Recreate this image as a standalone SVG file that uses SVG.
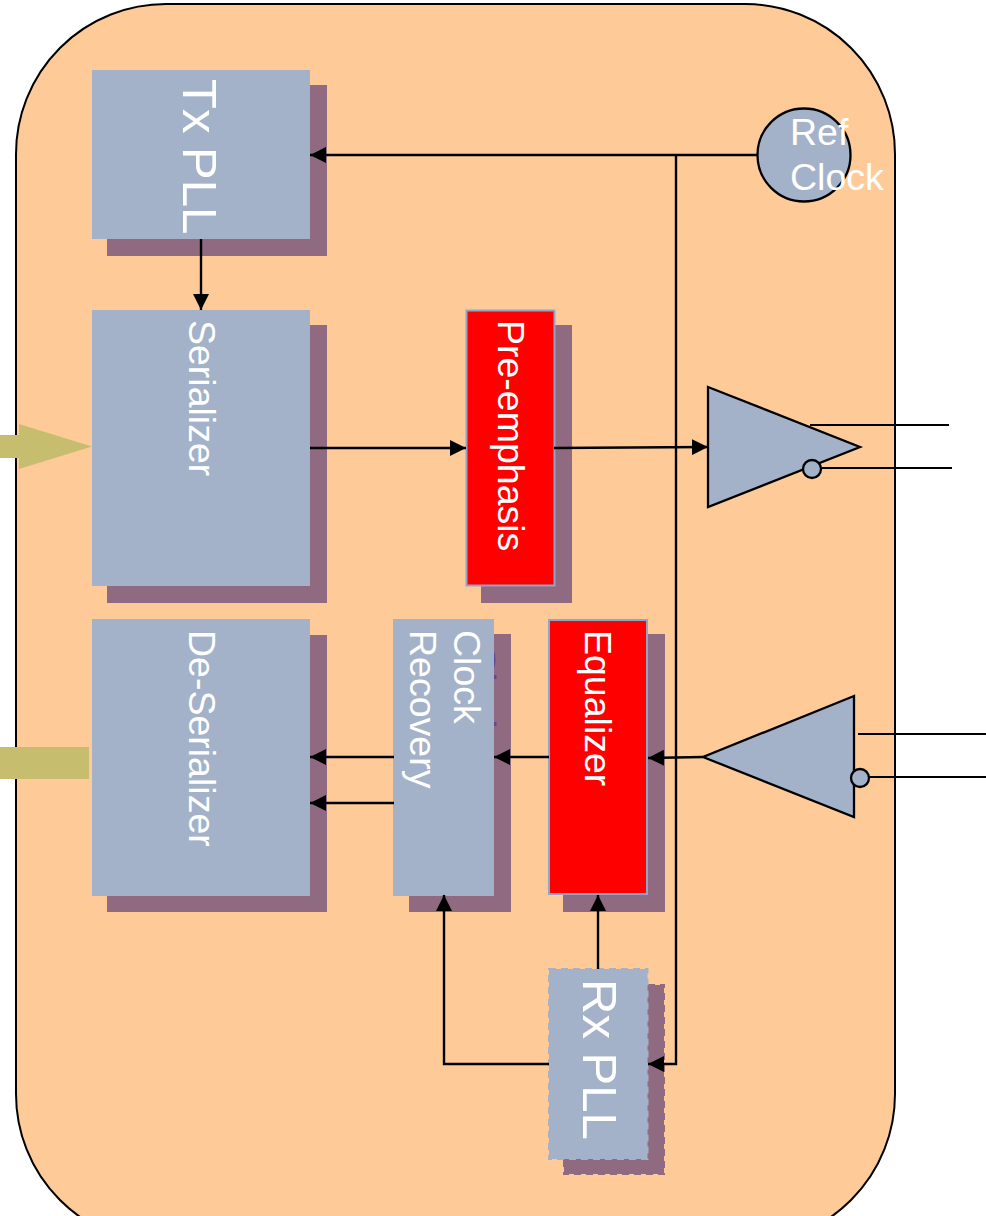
<svg xmlns="http://www.w3.org/2000/svg" width="986" height="1216" viewBox="0 0 986 1216">
<style>
text{font-family:"Liberation Sans",Arial,sans-serif;fill:#fff;font-size:37.5px}
.big{font-size:49px}
.box{fill:#a4b2c9}
.sh{fill:#8f6a81}
.red{fill:#f00;stroke:#8fa5c9;stroke-width:2}
.dash{stroke-width:2;stroke-dasharray:7 5}
.ln{fill:none;stroke:#000;stroke-width:2.4}
.thin{fill:none;stroke:#000;stroke-width:1.8}
.ol{fill:#a4b2c9;stroke:#000;stroke-width:2.3}
</style>
<defs>
<marker id="a" markerUnits="userSpaceOnUse" markerWidth="17" markerHeight="16" refX="16" refY="8" orient="auto"><path d="M0 0L16 8L0 16Z" fill="#000"/></marker>
</defs>
<rect id="chip" x="16" y="4" width="879" height="1240" rx="150" ry="150" fill="#fecb98" stroke="#000" stroke-width="2"/>
<g id="bus-in"><path d="M0 435H19V424L92 446.500L19 469V458H0Z" fill="#c7bd6f"/></g>
<g id="bus-out"><rect x="0" y="747" width="89" height="32" fill="#c7bd6f"/></g>
<g id="tx-pll"><rect class="sh" x="107" y="85" width="220" height="171"/><rect class="box" x="92" y="70" width="218" height="169"/><text class="big" transform="translate(183,79) rotate(90)">Tx PLL</text></g>
<g id="serializer"><rect class="sh" x="107" y="325" width="220" height="278"/><rect class="box" x="92" y="310" width="218" height="276"/><text transform="translate(189,320) rotate(90)">Serializer</text></g>
<g id="deserializer"><rect class="sh" x="107" y="635" width="220" height="277"/><rect class="box" x="92" y="619" width="218" height="277"/><text transform="translate(189,630) rotate(90)">De-Serializer</text></g>
<g id="pre-emphasis"><rect class="sh" x="481" y="325" width="91" height="278"/><rect class="red" x="466.500" y="310.500" width="88" height="275"/><text transform="translate(498,320) rotate(90)">Pre-emphasis</text></g>
<g id="clock-recovery"><rect class="sh" x="409" y="634" width="102" height="278"/><path d="M494 651q3 8 0 17zM494 675h2.500v4h-2.500zM494 722h2.500v4h-2.500z" fill="#5f4a94"/><rect class="box" x="393" y="619" width="101" height="277"/><text transform="translate(454,630) rotate(90)">Clock</text><text transform="translate(410,630) rotate(90)">Recovery</text></g>
<g id="equalizer"><rect class="sh" x="563" y="634" width="102" height="278"/><rect class="red" x="549" y="620" width="98" height="274"/><text transform="translate(585,630) rotate(90)">Equalizer</text></g>
<g id="rx-pll"><rect class="sh dash" stroke="#8f6a81" x="564" y="985" width="100" height="189"/><rect class="box dash" stroke="#a4b2c9" x="549" y="969" width="98.500" height="190"/><text class="big" transform="translate(583,979) rotate(90)">Rx PLL</text></g>
<g id="ref-clock"><circle class="ol" cx="804" cy="155" r="46.500"/><text x="790" y="145">Ref</text><text x="790" y="190">Clock</text></g>
<g id="tx-driver"><path class="ol" d="M708 387L860 447L708 507Z"/><circle class="ol" cx="812" cy="469" r="9"/></g>
<g id="rx-driver"><path class="ol" d="M854 696L703 757L854 817Z"/><circle class="ol" cx="860" cy="778" r="9"/></g>
<g id="connectors">
<path class="ln" d="M757 155H310" marker-end="url(#a)"/>
<path class="ln" d="M676 155V1064H648" marker-end="url(#a)"/>
<path class="ln" d="M201 239V310" marker-end="url(#a)"/>
<path class="ln" d="M310 448H466" marker-end="url(#a)"/>
<path class="ln" d="M554 448L708 447" marker-end="url(#a)"/>
<path class="ln" d="M703 757L648 758" marker-end="url(#a)"/>
<path class="ln" d="M549 757H494" marker-end="url(#a)"/>
<path class="ln" d="M394 757H310" marker-end="url(#a)"/>
<path class="ln" d="M394 803H310" marker-end="url(#a)"/>
<path class="ln" d="M598 969V895" marker-end="url(#a)"/>
<path class="ln" d="M549 1064H444V895" marker-end="url(#a)"/>
<path class="thin" d="M810 425H949"/>
<path class="thin" d="M821 468H952"/>
<path class="thin" d="M858 734H986"/>
<path class="thin" d="M869 777H986"/>
</g>
</svg>
